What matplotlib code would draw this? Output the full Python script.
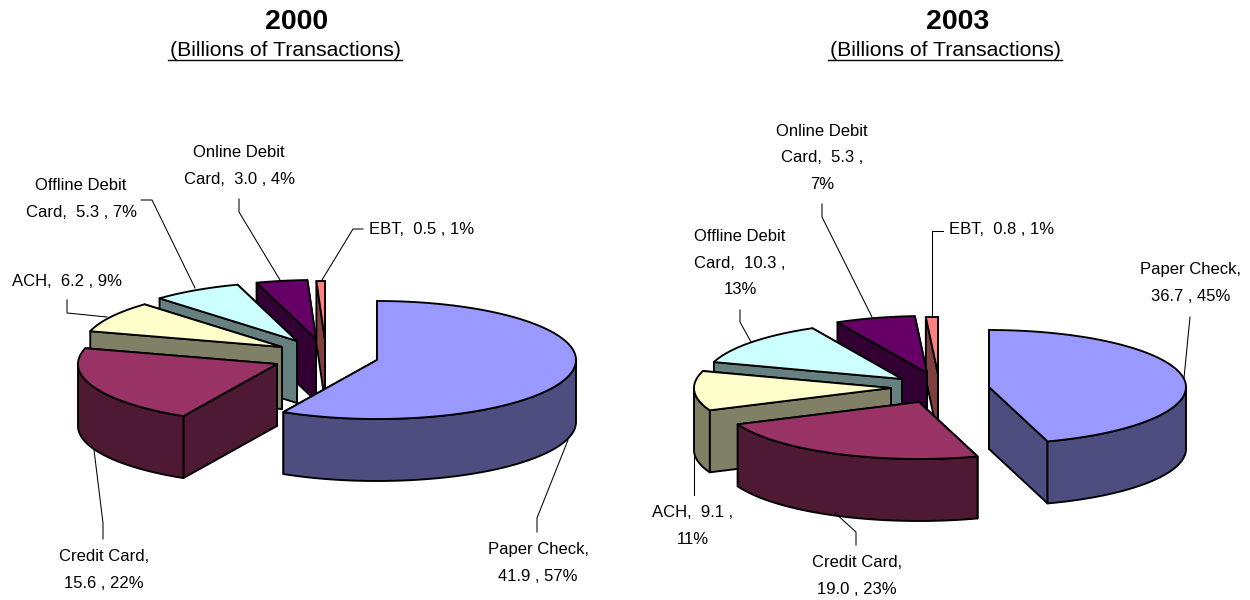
import numpy as np
import matplotlib
matplotlib.use("Agg")
import matplotlib.pyplot as plt
from matplotlib.patches import Polygon

plt.rcParams['font.family'] = ['Liberation Sans', 'DejaVu Sans']

# ---------- data ----------
categories = ["Paper Check", "Credit Card", "ACH", "Offline Debit Card", "Online Debit Card", "EBT"]
values_2000 = [41.9, 15.6, 6.2, 5.3, 3.0, 0.5]
values_2003 = [36.7, 19.0, 9.1, 10.3, 5.3, 0.8]
labels_2000 = ["Paper Check,\n41.9 , 57%", "Credit Card,\n15.6 , 22%", "ACH,  6.2 , 9%",
               "Offline Debit\nCard,  5.3 , 7%", "Online Debit\nCard,  3.0 , 4%", "EBT,  0.5 , 1%"]
labels_2003 = ["Paper Check,\n36.7 , 45%", "Credit Card,\n19.0 , 23%", "ACH,  9.1 ,\n11%",
               "Offline Debit\nCard,  10.3 ,\n13%", "Online Debit\nCard,  5.3 ,\n7%", "EBT,  0.8 , 1%"]

# ---------- style / layout (pixel space) ----------
top_colors = ["#9999FF", "#993366", "#FFFFCC", "#CCFFFF", "#660066", "#FF8080"]
side_colors = ["#4D4D80", "#4D1933", "#808066", "#668080", "#330033", "#804040"]

apex_2000 = [(377, 360), (277, 364), (282, 347), (297, 341), (316, 339), (325, 340)]
apex_2003 = [(989, 387), (919, 402), (891, 388), (902, 379), (927, 373), (938, 374)]
label_pos_2000 = [(538, 563), (104, 570), (67, 282), (81, 199), (239, 166), (422, 230)]
label_pos_2003 = [(1191, 283), (857, 576), (693, 526), (740, 263), (822, 158), (1002, 230)]
leaders_2000 = [[(568, 440), (537, 518), (537, 532)], [(94, 450), (103, 523), (103, 539)],
                [(67, 300), (67, 313), (107, 317)], [(141, 200), (152, 200), (195, 288)],
                [(239, 199), (239, 212), (280, 280)], [(363, 229), (353, 229), (322, 280)]]
leaders_2003 = [[(1190, 317), (1184, 378)], [(835, 513), (856, 532), (856, 545)],
                [(694, 453), (694, 495)], [(740, 310), (740, 322), (751, 342)],
                [(822, 204), (822, 217), (872, 317)], [(943, 231), (932, 231), (932, 317)]]

RADII_2000 = (199, 59)
RADII_2003 = (197, 57)
DEPTH = 62
EDGE = 1.35
LABEL_FS = 12
W, H = 1250, 600


def rim(cx, cy, theta, radii):
    """Point on the ellipse; theta in degrees clockwise from 12 o'clock."""
    t = np.radians(theta)
    return np.column_stack([cx + radii[0] * np.sin(t), cy - radii[1] * np.cos(t)])


def poly(ax, pts, color, z):
    ax.add_patch(Polygon(pts, closed=True, facecolor=color, edgecolor="black",
                         linewidth=EDGE, joinstyle="round", zorder=z))


def slice3d(ax, cx, cy, a0, a1, top, side, z, radii):
    down = np.array([0, DEPTH])
    apex = np.array([[cx, cy]])
    # cut faces: hidden one first, then the one facing the viewer
    faces = []
    for ang, sign in ((a0, -1), (a1, 1)):
        vis = sign * np.sin(np.radians(ang)) > 1e-6
        p = rim(cx, cy, ang, radii)
        faces.append((vis, np.vstack([apex, p, p + down, apex + down])))
    faces.sort(key=lambda f: f[0])
    for vis, q in faces:
        poly(ax, q, side, z)
    # outer wall: the part of the rim on the lower half of the ellipse
    lo, hi = max(a0, 90), min(a1, 270)
    if hi > lo:
        arc = rim(cx, cy, np.linspace(lo, hi, 80), radii)
        poly(ax, np.vstack([arc, (arc + down)[::-1]]), side, z)
    arc = rim(cx, cy, np.linspace(a0, a1, 160), radii)
    poly(ax, np.vstack([apex, arc]), top, z + 0.5)


def pie3d(ax, values, apexes, radii):
    v = np.asarray(values, float)
    edges = np.concatenate([[0], np.cumsum(v) / v.sum() * 360])
    # painter's order: EBT at the back ... Paper Check last
    for i in range(len(v) - 1, -1, -1):
        slice3d(ax, *apexes[i], edges[i], edges[i + 1], top_colors[i], side_colors[i],
                10 + (len(v) - i), radii)


fig = plt.figure(figsize=(W / 100, H / 100), dpi=100, facecolor="white")
ax = fig.add_axes([0, 0, 1, 1])
ax.set_xlim(0, W)
ax.set_ylim(H, 0)
ax.axis("off")

pie3d(ax, values_2000, apex_2000, RADII_2000)
pie3d(ax, values_2003, apex_2003, RADII_2003)

for labels, positions, leaders in ((labels_2000, label_pos_2000, leaders_2000),
                                   (labels_2003, label_pos_2003, leaders_2003)):
    for text, (x, y), path in zip(labels, positions, leaders):
        ax.text(x, y, text, fontsize=LABEL_FS, ha="center", va="center",
                multialignment="center", linespacing=1.95, color="black", zorder=40)
        xs, ys = zip(*path)
        ax.plot(xs, ys, color="black", lw=0.75, zorder=30, solid_joinstyle="miter")

for year, xt, xs, ul in (("2000", 297, 285, (168, 402)), ("2003", 958, 945, (828, 1062))):
    ax.text(xt, 22, year, fontsize=20.5, fontweight="bold", ha="center", va="center")
    ax.text(xs, 51, "(Billions of Transactions)", fontsize=15.3, ha="center", va="center")
    ax.plot(ul, (60, 60), color="black", lw=1.0)

fig.savefig("out.png", dpi=100)
